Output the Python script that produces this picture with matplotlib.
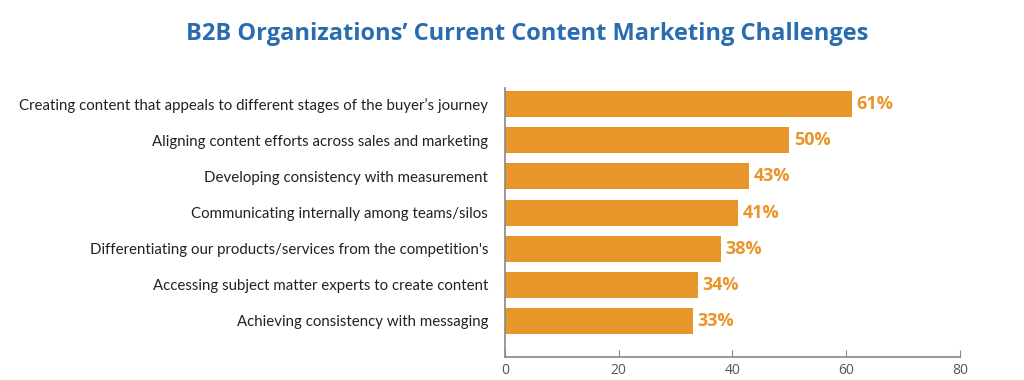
import matplotlib.pyplot as plt

# Data
categories = [
    "Creating content that appeals to different stages of the buyer\u2019s journey",
    "Aligning content efforts across sales and marketing",
    "Developing consistency with measurement",
    "Communicating internally among teams/silos",
    "Differentiating our products/services from the competition's",
    "Accessing subject matter experts to create content",
    "Achieving consistency with messaging",
]
values = [61, 50, 43, 41, 38, 34, 33]
xticks = [0, 20, 40, 60, 80]

bar_color = "#e8952a"
title_color = "#2a6cb0"
axis_color = "#888888"

plt.rcParams['font.family'] = ['Open Sans', 'DejaVu Sans']

fig = plt.figure(figsize=(10.24, 3.8), dpi=100)
ax = fig.add_axes([0.493, 0.0605, 0.4445, 0.708])

y = list(range(len(categories)))
ax.barh(y, values, height=0.72, color=bar_color)

for yi, v in zip(y, values):
    ax.text(v + 0.8, yi, f"{v}%", va='center', ha='left',
            fontsize=13, fontweight='bold', color=bar_color)

ax.set_xlim(0, 80)
ax.set_ylim(len(categories) - 1 + 1.0, -0.45)
ax.set_xticks(xticks)
ax.set_xticklabels([str(t) for t in xticks], fontsize=10, color='#555555')
ax.tick_params(axis='x', direction='in', length=5, color=axis_color, pad=4)

ax.set_yticks(y)
ax.set_yticklabels(categories, fontsize=10.8, color='#222222', family=['Lato', 'DejaVu Sans'])
ax.tick_params(axis='y', length=0, pad=12)

for side in ['top', 'right']:
    ax.spines[side].set_visible(False)
for side in ['left', 'bottom']:
    ax.spines[side].set_color(axis_color)
    ax.spines[side].set_linewidth(1.2)

fig.text(0.515, 0.91, "B2B Organizations\u2019 Current Content Marketing Challenges",
         ha='center', va='center', fontsize=17, fontweight='bold', color=title_color)

fig.savefig("out.png", dpi=100)
